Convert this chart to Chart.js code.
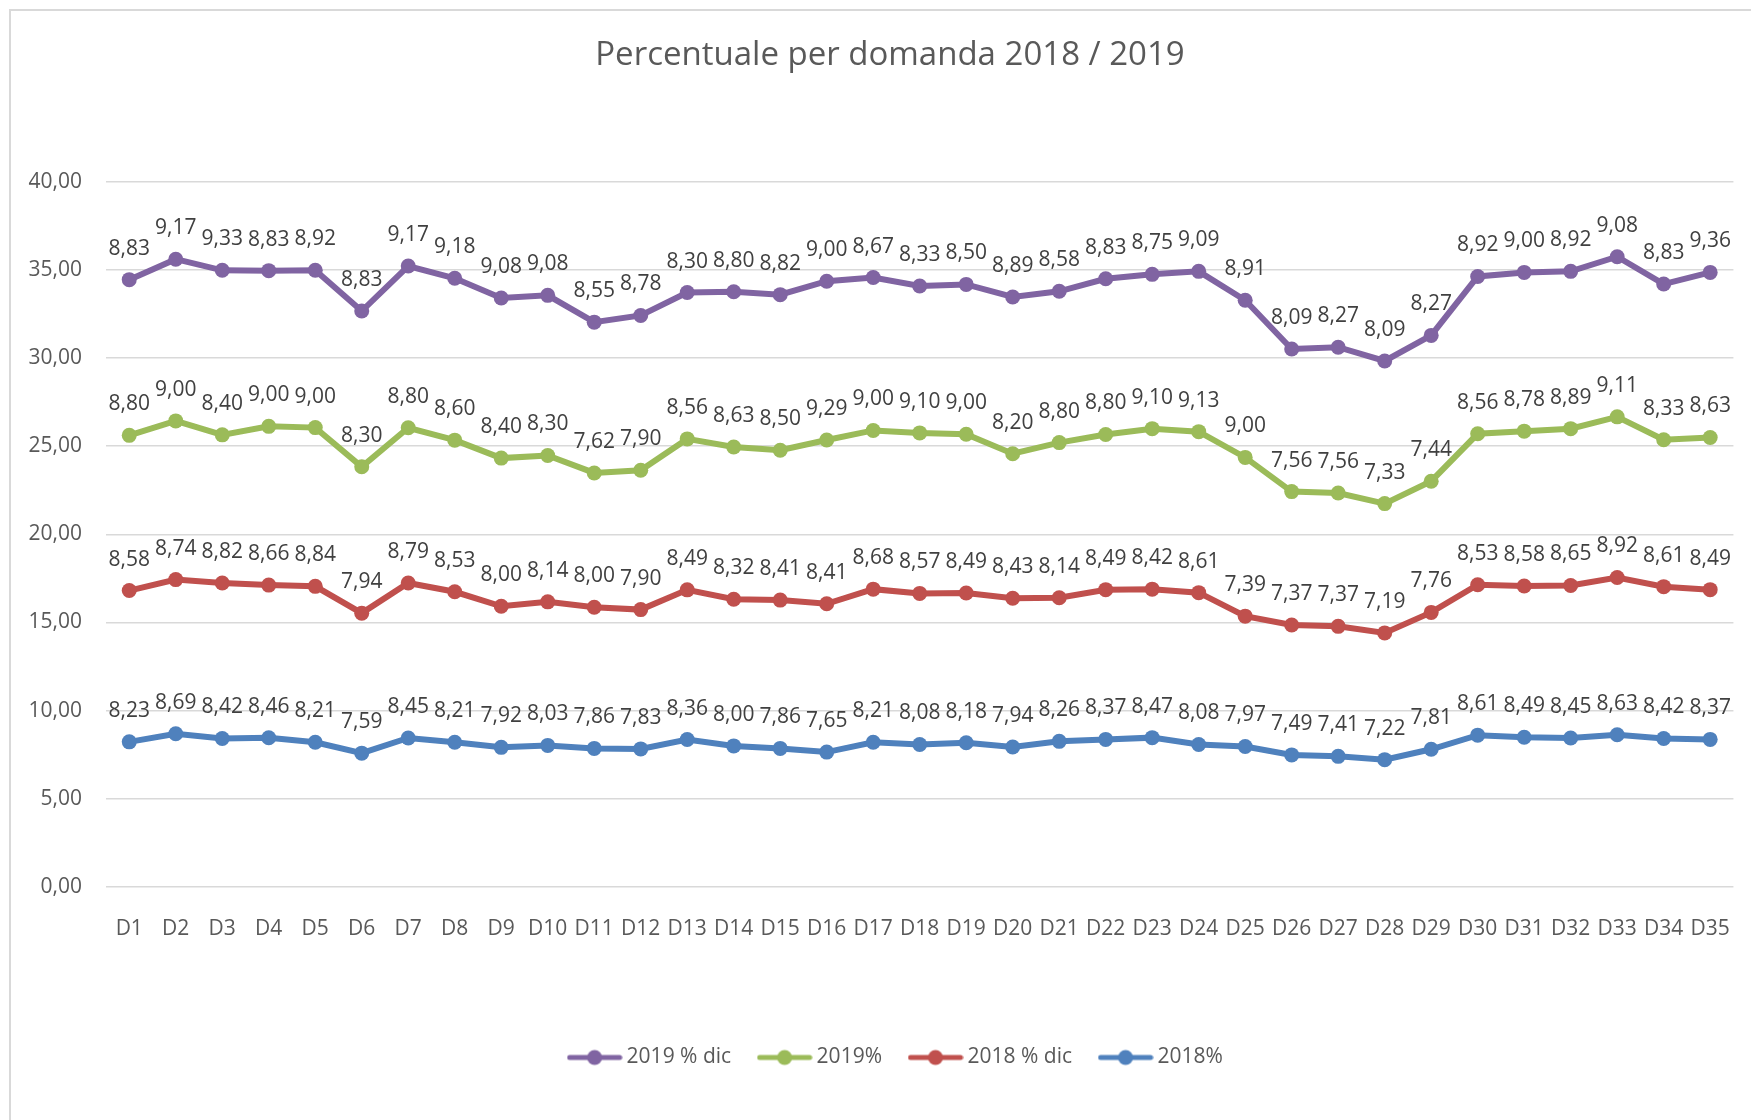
<!DOCTYPE html>
<html>
<head>
<meta charset="utf-8">
<script src="https://cdn.jsdelivr.net/npm/chart.js@4"></script>
<style>
  html, body { margin: 0; padding: 0; background: #fff; }
  #wrap { width: 1751px; height: 1120px; }
</style>
</head>
<body>
<div id="wrap"><canvas id="canvas" width="1751" height="1120"></canvas></div>
<script>
const categories = ['D1', 'D2', 'D3', 'D4', 'D5', 'D6', 'D7', 'D8', 'D9', 'D10',
  'D11', 'D12', 'D13', 'D14', 'D15', 'D16', 'D17', 'D18', 'D19', 'D20',
  'D21', 'D22', 'D23', 'D24', 'D25', 'D26', 'D27', 'D28', 'D29', 'D30',
  'D31', 'D32', 'D33', 'D34', 'D35'];

const pct2018 = [8.23, 8.69, 8.42, 8.46, 8.21, 7.59, 8.45, 8.21, 7.92, 8.03,
  7.86, 7.83, 8.36, 8.00, 7.86, 7.65, 8.21, 8.08, 8.18, 7.94,
  8.26, 8.37, 8.47, 8.08, 7.97, 7.49, 7.41, 7.22, 7.81, 8.61,
  8.49, 8.45, 8.63, 8.42, 8.37];

const pctDic2018 = [8.58, 8.74, 8.82, 8.66, 8.84, 7.94, 8.79, 8.53, 8.00, 8.14,
  8.00, 7.90, 8.49, 8.32, 8.41, 8.41, 8.68, 8.57, 8.49, 8.43,
  8.14, 8.49, 8.42, 8.61, 7.39, 7.37, 7.37, 7.19, 7.76, 8.53,
  8.58, 8.65, 8.92, 8.61, 8.49];

const pct2019 = [8.80, 9.00, 8.40, 9.00, 9.00, 8.30, 8.80, 8.60, 8.40, 8.30,
  7.62, 7.90, 8.56, 8.63, 8.50, 9.29, 9.00, 9.10, 9.00, 8.20,
  8.80, 8.80, 9.10, 9.13, 9.00, 7.56, 7.56, 7.33, 7.44, 8.56,
  8.78, 8.89, 9.11, 8.33, 8.63];

const pctDic2019 = [8.83, 9.17, 9.33, 8.83, 8.92, 8.83, 9.17, 9.18, 9.08, 9.08,
  8.55, 8.78, 8.30, 8.80, 8.82, 9.00, 8.67, 8.33, 8.50, 8.89,
  8.58, 8.83, 8.75, 9.09, 8.91, 8.09, 8.27, 8.09, 8.27, 8.92,
  9.00, 8.92, 9.08, 8.83, 9.36];

const yTicks = [0, 5, 10, 15, 20, 25, 30, 35, 40];

const FONT = "'Open Sans', 'DejaVu Sans', sans-serif";
const TEXT = '#595959';

function fmt(v) {
  return v.toFixed(2).replace('.', ',');
}

// small line + dot image for the legend, like Excel
function legendMark(color) {
  const c = document.createElement('canvas');
  c.width = 56;
  c.height = 18;
  const g = c.getContext('2d');
  g.strokeStyle = color;
  g.lineWidth = 5;
  g.lineCap = 'round';
  g.beginPath();
  g.moveTo(3, 9);
  g.lineTo(53, 9);
  g.stroke();
  g.fillStyle = color;
  g.beginPath();
  g.arc(28, 9, 7.5, 0, Math.PI * 2);
  g.fill();
  return c;
}

function serie(label, data, color) {
  return {
    label: label,
    data: data,
    borderColor: color,
    backgroundColor: color,
    pointBackgroundColor: color,
    pointBorderColor: color,
    borderWidth: 6,
    pointRadius: 7.5,
    pointBorderWidth: 0,
    tension: 0,
    fill: false,
    pointStyle: 'circle',
    legendMark: legendMark(color),
  };
}

const valueLabels = {
  id: 'valueLabels',
  afterDatasetsDraw(chart) {
    const ctx = chart.ctx;
    ctx.save();
    ctx.font = '21px ' + FONT;
    ctx.fillStyle = '#404040';
    ctx.textAlign = 'center';
    ctx.textBaseline = 'middle';
    chart.data.datasets.forEach((ds, i) => {
      const meta = chart.getDatasetMeta(i);
      meta.data.forEach((pt, j) => {
        ctx.fillText(fmt(ds.data[j]), pt.x, pt.y - 31);
      });
    });
    ctx.restore();
  }
};

const frame = {
  id: 'frame',
  // y labels are clipped to the axis box, so give it the whole left margin
  afterLayout(chart) {
    chart.scales.y.left = 0;
    chart.legend.left += 8;
    chart.legend.right += 8;
  },
  beforeDraw(chart) {
    const ctx = chart.ctx;
    ctx.save();
    ctx.fillStyle = '#fff';
    ctx.fillRect(0, 0, chart.width, chart.height);
    ctx.strokeStyle = '#D9D9D9';
    ctx.lineWidth = 2;
    ctx.beginPath();
    ctx.moveTo(10, 1120);
    ctx.lineTo(10, 10);
    ctx.lineTo(1751, 10);
    ctx.stroke();
    ctx.restore();
  }
};

const config = {
  type: 'line',
  data: {
    labels: categories,
    datasets: [
      serie('2018%', pct2018, '#4F81BD'),
      serie('2018 % dic', pctDic2018, '#C0504D'),
      serie('2019%', pct2019, '#9BBB59'),
      serie('2019 % dic', pctDic2019, '#8064A2'),
    ],
  },
  options: {
    responsive: false,
    devicePixelRatio: 1,
    animation: false,
    layout: { padding: { left: 43, right: 14, top: 0, bottom: 42 } },
    plugins: {
      title: {
        display: true,
        text: 'Percentuale per domanda 2018 / 2019',
        color: TEXT,
        font: { family: FONT, size: 33, weight: 'normal', lineHeight: 1.2 },
        padding: { top: 36, bottom: 106 },
      },
      legend: {
        position: 'bottom',
        reverse: true,
        labels: {
          color: TEXT,
          font: { family: FONT, size: 21 },
          usePointStyle: true,
          pointStyleWidth: 43,
          padding: 32,
          generateLabels(chart) {
            return chart.data.datasets.map((ds, i) => ({
              text: ds.label,
              fillStyle: ds.borderColor,
              strokeStyle: ds.borderColor,
              lineWidth: 0,
              pointStyle: ds.legendMark,
              fontColor: TEXT,
              hidden: false,
              datasetIndex: i,
            }));
          },
        },
      },
      tooltip: { enabled: false },
    },
    scales: {
      x: {
        offset: true,
        grid: { display: false },
        border: { display: false },
        ticks: {
          color: TEXT,
          font: { family: FONT, size: 21 },
          autoSkip: false,
          maxRotation: 0,
          padding: 21,
        },
        afterFit(scale) { scale.height = 128; },
      },
      y: {
        stacked: true,
        min: 0,
        max: 40,
        grid: { color: '#D9D9D9', lineWidth: 1.5, drawTicks: false },
        border: { display: false },
        ticks: {
          color: TEXT,
          font: { family: FONT, size: 21 },
          padding: 24,
          stepSize: 5,
          callback: (v) => fmt(v),
        },
        afterBuildTicks(scale) {
          scale.ticks = yTicks.map(v => ({ value: v }));
        },
        afterFit(scale) { scale.width = 63; },
      },
    },
  },
  plugins: [frame, valueLabels],
};

const canvas = document.getElementById('canvas');
const chart = new Chart(canvas, config);
</script>
</body>
</html>
